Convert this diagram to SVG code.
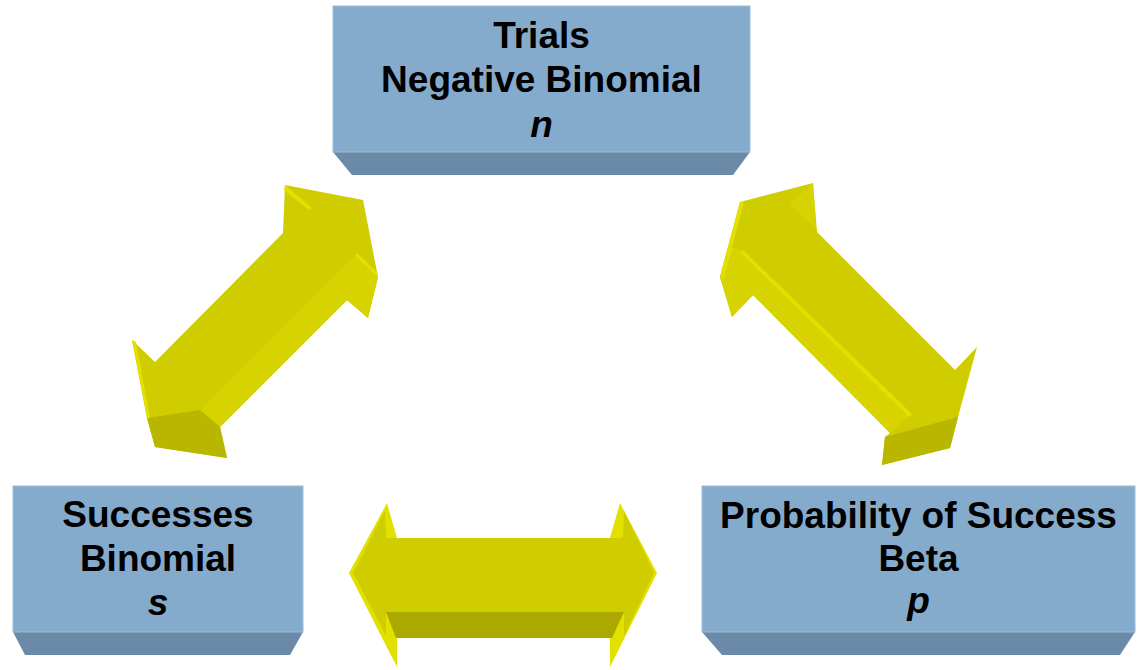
<svg xmlns="http://www.w3.org/2000/svg" width="1138" height="670" viewBox="0 0 1138 670">
<style>
.front{fill:#85ABCC;stroke:#9CBBD7;stroke-width:1}
.bevel{fill:#6B8AA8}
.t{font-family:"Liberation Sans",Arial,sans-serif;font-weight:bold;font-size:37px;fill:#000;text-anchor:middle}
.it{font-style:italic}
.ym{fill:#CFCC00}
.yl{fill:#D6D300}
.yh{fill:#E3E000}
.yd{fill:#B9B600}
.yb{fill:#ABA800}
</style>
<rect width="1138" height="670" fill="#fff"/>
<g id="connectors">
  <g id="arrow-left">
    <polygon class="ym" points="285,185 363,200 378,277 368,318 347,300 220,427 227,458 155,447 147,418 132,340 155,362 283,233"/>
    <polygon class="yl" points="357,253 378,277 368,318 347,300 220,427 200,410"/>
    <polygon class="yd" points="147,418 200,410 220,427 227,458 155,447"/>
    <polygon class="yh" points="285,185 312,208 309,210 284,190"/>
    <polygon class="yh" points="132,340 136,342 150,418 147,418"/>
    <polygon class="yh" points="357,253 377,272 378,277 355,256"/>
  </g>
  <g id="arrow-right">
    <polygon class="ym" points="740,202 813,183 817,232 955,370 977,347 958,417 950,448 882,465 885,437 890,433 753,295 732,317 720,277"/>
    <polygon class="yl" points="743,250 910,415 890,433 753,295 732,317 720,277 728,247"/>
    <polygon class="yd" points="885,437 958,417 950,448 882,465"/>
    <polygon class="yh" points="743,250 912,414 909,417 741,253"/>
    <polygon class="yl" points="789,205 813,183 816,228"/>
    <polygon class="yh" points="740,202 744,202 724,278 720,277"/>
  </g>
  <g id="arrow-bottom">
    <polygon class="yh" points="349,573 387,503 397,538 610,538 620,503 657,573 610,667 610,638 397,638 397,667"/>
    <polygon class="ym" points="353,573 385,511 386,538 623,538 624,511 654,573 624,636 624,612 386,612 386,636"/>
    <polygon class="yb" points="386,612 624,612 612,638 396,638"/>
  </g>
</g>
<g id="node-trials">
  <polygon class="bevel" points="333,152 750,152 733,175 352,175"/>
  <rect class="front" x="333" y="6" width="417" height="146"/>
  <text class="t" x="541.5" y="48">Trials</text>
  <text class="t" x="541.5" y="92">Negative Binomial</text>
  <text class="t it" x="541.5" y="137">n</text>
</g>
<g id="node-successes">
  <polygon class="bevel" points="13,632 303,632 290,655 25,655"/>
  <rect class="front" x="13" y="486" width="290" height="146"/>
  <text class="t" x="158" y="527">Successes</text>
  <text class="t" x="158" y="571">Binomial</text>
  <text class="t it" x="158" y="615">s</text>
</g>
<g id="node-probability">
  <polygon class="bevel" points="702,632 1135,632 1120,655 722,655"/>
  <rect class="front" x="702" y="486" width="433" height="146"/>
  <text class="t" x="918.5" y="528">Probability of Success</text>
  <text class="t" x="918.5" y="571">Beta</text>
  <text class="t it" x="918.5" y="613">p</text>
</g>
</svg>
